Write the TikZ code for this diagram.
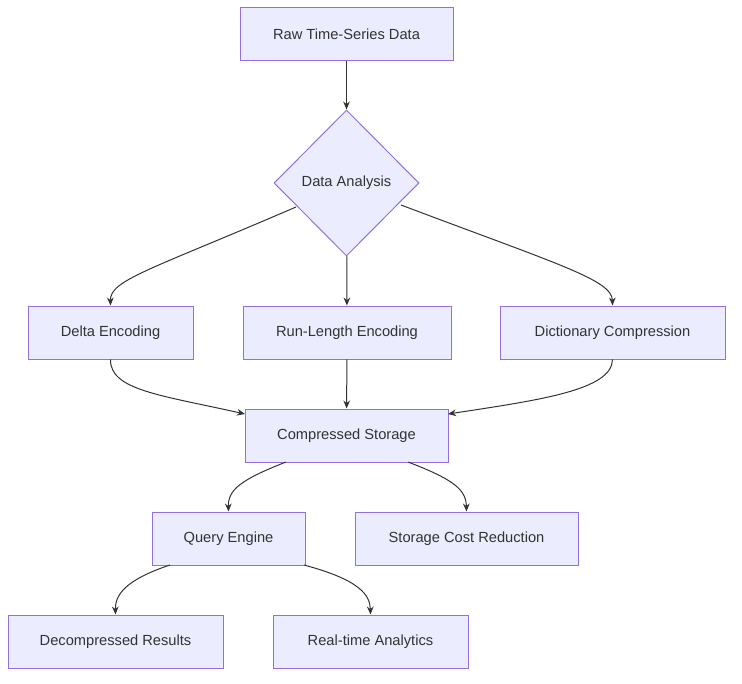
\documentclass[tikz,border=0pt]{standalone}
\usepackage{fontspec}
\setmainfont{Liberation Sans}
\usetikzlibrary{shapes.geometric,arrows.meta}
\definecolor{nf}{HTML}{ECECFF}
\definecolor{ns}{HTML}{9370DB}
\definecolor{ln}{HTML}{333333}
\begin{document}
\begin{tikzpicture}[x=0.75pt,y=-0.75pt,
 box/.style={draw=ns,fill=nf,line width=0.75pt,minimum height=53*0.75pt,inner sep=0pt,font=\fontsize{11}{13}\selectfont,text=ln},
 dia/.style={draw=ns,fill=nf,line width=0.75pt,diamond,minimum width=145*0.75pt,minimum height=146*0.75pt,inner sep=0pt,font=\fontsize{11}{13}\selectfont,text=ln},
 ar/.style={draw=ln,line width=0.75pt,-{Stealth[length=6pt,width=5pt]}}]
\useasboundingbox (0,0) rectangle (742,684);
\node[box,minimum width=213*0.75pt] (raw) at (346.5,34.5) {Raw Time-Series Data};
\node[dia] (ana) at (346.5,183) {Data Analysis};
\node[box,minimum width=165*0.75pt] (del) at (110.5,332.5) {Delta Encoding};
\node[box,minimum width=208*0.75pt] (rle) at (347,332.5) {Run-Length Encoding};
\node[box,minimum width=225*0.75pt] (dic) at (612.5,332.5) {Dictionary Compression};
\node[box,minimum width=203*0.75pt] (cs) at (346.5,435.5) {Compressed Storage};
\node[box,minimum width=153*0.75pt] (qe) at (228.5,538.5) {Query Engine};
\node[box,minimum width=223*0.75pt] (sc) at (466.5,538.5) {Storage Cost Reduction};
\node[box,minimum width=215*0.75pt] (dr) at (115.5,641.5) {Decompressed Results};
\node[box,minimum width=195*0.75pt] (rt) at (370.5,641.5) {Real-time Analytics};
\coordinate (a1) at (296,207); \coordinate (a3) at (401,205);
\draw[ar] (raw) -- (ana);
\draw[ar] (a1) .. controls (150,270) and (110,280) .. (del.north);
\draw[ar] (ana) -- (rle);
\draw[ar] (a3) .. controls (560,265) and (612,280) .. (dic.north);
\coordinate (c1) at (245,414); \coordinate (c2) at (448,414);
\draw[ar] (del.south) .. controls (110,390) and (160,395) .. (c1);
\draw[ar] (rle) -- (cs);
\draw[ar] (dic.south) .. controls (612,390) and (540,400) .. (c2);
\coordinate (q1) at (286,462); \coordinate (q2) at (408,462);
\draw[ar] (q1) .. controls (240,480) and (228,490) .. (qe.north);
\draw[ar] (q2) .. controls (455,480) and (466,490) .. (sc.north);
\coordinate (r1) at (170,565); \coordinate (r2) at (304,565);
\draw[ar] (r1) .. controls (125,580) and (115,595) .. (dr.north);
\draw[ar] (r2) .. controls (360,580) and (370,595) .. (rt.north);
\end{tikzpicture}
\end{document}
